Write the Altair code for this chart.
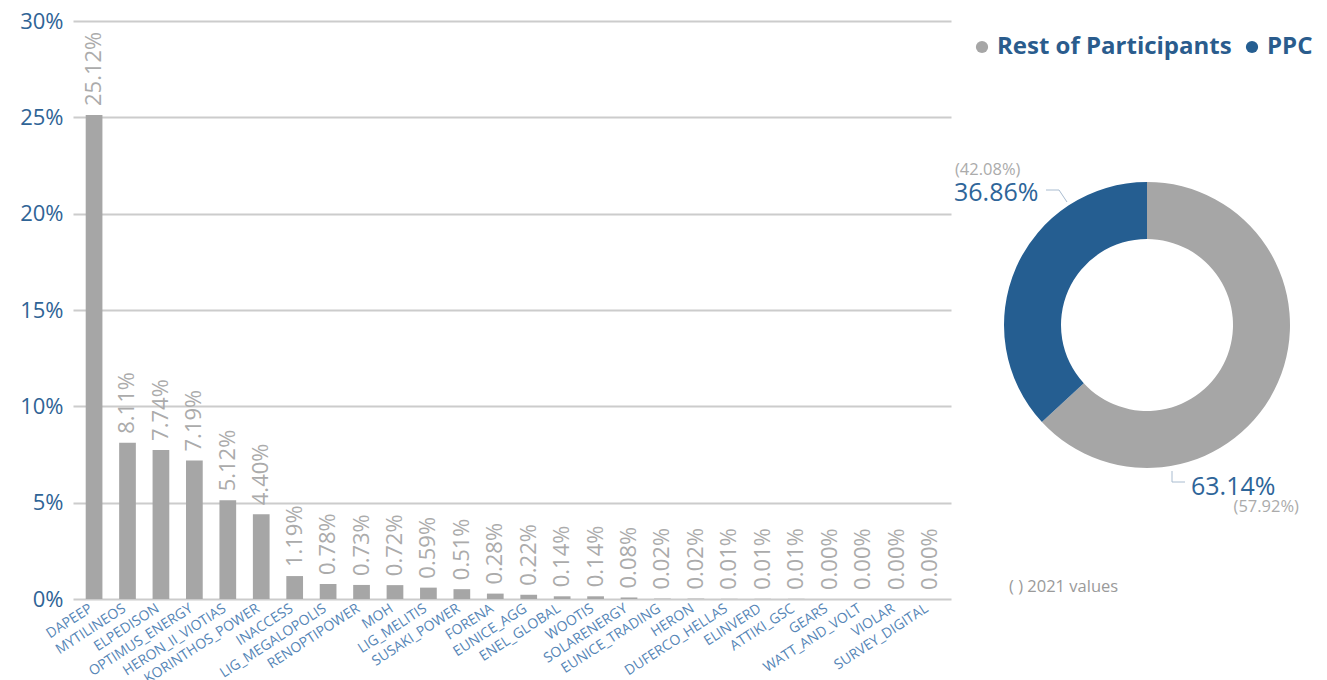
import altair as alt
import pandas as pd

# ---- data ----
companies = ["DAPEEP", "MYTILINEOS", "ELPEDISON", "OPTIMUS_ENERGY", "HERON_II_VIOTIAS",
             "KORINTHOS_POWER", "INACCESS", "LIG_MEGALOPOLIS", "RENOPTIPOWER", "MOH",
             "LIG_MELITIS", "SUSAKI_POWER", "FORENA", "EUNICE_AGG", "ENEL_GLOBAL", "WOOTIS",
             "SOLARENERGY", "EUNICE_TRADING", "HERON", "DUFERCO_HELLAS", "ELINVERD",
             "ATTIKI_GSC", "GEARS", "WATT_AND_VOLT", "VIOLAR", "SURVEY_DIGITAL"]
shares = [25.12, 8.11, 7.74, 7.19, 5.12, 4.40, 1.19, 0.78, 0.73, 0.72, 0.59, 0.51, 0.28,
          0.22, 0.14, 0.14, 0.08, 0.02, 0.02, 0.01, 0.01, 0.01, 0.00, 0.00, 0.00, 0.00]
y_ticks = [0, 5, 10, 15, 20, 25, 30]

groups = ["Rest of Participants", "PPC"]
share_2022 = [63.14, 36.86]
share_2021 = [57.92, 42.08]
note_text = ["( ) 2021 values"]

FONT = "Open Sans"
GRAY = "#A6A6A6"
BLUE = "#255E91"
AXIS_BLUE = "#2F6496"
XLAB_BLUE = "#5585B6"
LABEL_GRAY = "#ABABAB"
LEADER = "#A9BCD0"

bar_df = pd.DataFrame({"company": companies, "share": shares})
bar_df["label"] = [f"{v:.2f}%" for v in shares]

x_enc = alt.X("company:N", sort=companies, title=None,
              scale=alt.Scale(paddingInner=0.5, paddingOuter=0.38),
              axis=alt.Axis(labelAngle=-33, labelAlign="right", labelBaseline="middle",
                            labelFontSize=14, labelColor=XLAB_BLUE, labelFont=FONT,
                            labelLimit=400, ticks=False, domain=False, grid=False,
                            labelPadding=8, labelOffset=-3))
y_enc = alt.Y("share:Q", title=None, scale=alt.Scale(domain=[0, 30], nice=False),
              axis=alt.Axis(values=y_ticks, labelExpr="datum.value + '%'", labelFontSize=22,
                            labelColor=AXIS_BLUE, labelFont=FONT, grid=True,
                            gridColor="#CCCCCC", gridWidth=2, ticks=False, domain=False,
                            labelPadding=10))

base = alt.Chart(bar_df)
bars = base.mark_bar(color=GRAY).encode(x=x_enc, y=y_enc)
bar_labels = base.mark_text(angle=270, align="left", baseline="middle", dx=9, fontSize=22,
                            color=LABEL_GRAY, font=FONT).encode(x=x_enc, y=y_enc, text="label:N")
bar_panel = alt.layer(bars, bar_labels).properties(width=878, height=578)

# ---- donut ----
pie_df = pd.DataFrame({"group": groups, "s22": share_2022, "s21": share_2021,
                       "ord": list(range(len(groups)))})
pie_base = alt.Chart(pie_df).transform_calculate(
    t22="format(datum.s22, '.2f') + '%'",
    t21="'(' + format(datum.s21, '.2f') + '%)'")

CX, CY = 196, 304
arc = pie_base.mark_arc(innerRadius=86, outerRadius=143).encode(
    theta=alt.Theta("s22:Q", stack=True),
    order=alt.Order("ord:Q"),
    color=alt.Color("group:N", scale=alt.Scale(domain=groups, range=[GRAY, BLUE]),
                    legend=alt.Legend(title=None, orient="none", legendX=19, legendY=14,
                                      direction="horizontal", symbolType="circle",
                                      symbolSize=150, symbolStrokeWidth=0,
                                      labelFontSize=24, labelFontWeight="bold",
                                      labelColor="#2A5C8D", labelFont=FONT, labelLimit=600,
                                      labelOffset=3, columnPadding=8)),
    x=alt.value(CX), y=alt.value(CY))

ppc = pie_base.transform_filter("datum.group == 'PPC'")
rest = pie_base.transform_filter("datum.group == 'Rest of Participants'")

ppc_main = ppc.mark_text(align="left", baseline="middle", fontSize=25, color="#2E6599",
                         font=FONT).encode(text="t22:N", x=alt.value(3), y=alt.value(172))
ppc_old = ppc.mark_text(align="left", baseline="middle", fontSize=16.5, color=LABEL_GRAY,
                        font=FONT).encode(text="t21:N", x=alt.value(4), y=alt.value(149))
ppc_l1 = ppc.mark_rule(color=LEADER, strokeWidth=1).encode(
    x=alt.value(95), x2=alt.value(108), y=alt.value(169), y2=alt.value(169))
ppc_l2 = ppc.mark_rule(color=LEADER, strokeWidth=1).encode(
    x=alt.value(108), x2=alt.value(116), y=alt.value(169), y2=alt.value(181))

rest_main = rest.mark_text(align="left", baseline="middle", fontSize=25, color="#2E6599",
                           font=FONT).encode(text="t22:N", x=alt.value(240), y=alt.value(466))
rest_old = rest.mark_text(align="right", baseline="middle", fontSize=16.5, color=LABEL_GRAY,
                          font=FONT).encode(text="t21:N", x=alt.value(348), y=alt.value(486))
rest_l1 = rest.mark_rule(color=LEADER, strokeWidth=1).encode(
    x=alt.value(221), x2=alt.value(221), y=alt.value(450), y2=alt.value(461))
rest_l2 = rest.mark_rule(color=LEADER, strokeWidth=1).encode(
    x=alt.value(221), x2=alt.value(234), y=alt.value(461), y2=alt.value(461))

note = alt.Chart(pd.DataFrame({"t": note_text})).mark_text(
    align="left", baseline="middle", fontSize=16.5, color="#9A9A9A", font=FONT
).encode(text="t:N", x=alt.value(58), y=alt.value(566))

pie_panel = alt.layer(arc, ppc_l1, ppc_l2, rest_l1, rest_l2, ppc_main, ppc_old,
                      rest_main, rest_old, note).properties(width=360, height=578)

chart = alt.hconcat(bar_panel, pie_panel, spacing=0, bounds="flush").resolve_legend(
    color="independent").properties(
    padding={"left": 11, "top": 2, "right": 5, "bottom": 5}, background="white"
).configure_view(strokeWidth=0, stroke="transparent")

chart.save("out.html", embed_options={"renderer": "svg", "actions": False})
